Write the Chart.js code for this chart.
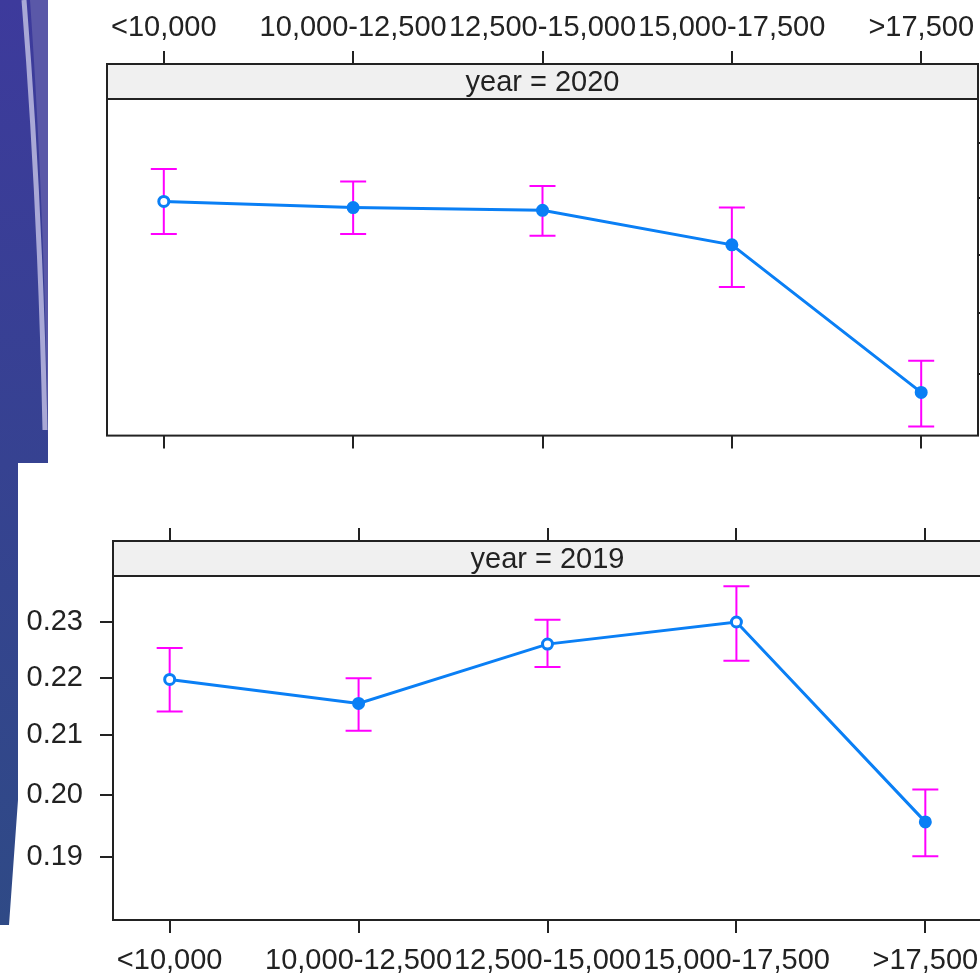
<!DOCTYPE html>
<html>
<head>
<meta charset="utf-8">
<script src="https://cdn.jsdelivr.net/npm/chart.js@4.4.1/dist/chart.umd.min.js"></script>
<style>
    html, body { margin: 0; padding: 0; width: 980px; height: 980px; overflow: hidden; background: #fff; }
    #deco { position: absolute; left: 0; top: 0; }
    .panel { position: absolute; left: 0; }
</style>
</head>
<body>
<svg id="deco" width="60" height="980">
    <defs>
        <linearGradient id="bg" x1="0" y1="0" x2="0" y2="1">
            <stop offset="0" stop-color="#3d3a9c"/>
            <stop offset="1" stop-color="#2f4a86"/>
        </linearGradient>
    </defs>
    <path d="M0,0 L48,0 L48,463 L18,463 L18,800 L9,925 L0,925 Z" fill="url(#bg)"/>
    <path d="M30,0 Q44,200 48,440 L48,0 Z" fill="#5a58a8"/>
    <path d="M24,0 Q40,200 45,430" stroke="#a9a8d6" stroke-width="5" fill="none"/>
</svg>
<canvas id="c2020" class="panel" style="top:0" width="1100" height="470"></canvas>
<canvas id="c2019" class="panel" style="top:470px" width="1100" height="510"></canvas>
<script>
// categorias de ingreso
const categorias = ['<10,000', '10,000-12,500', '12,500-15,000', '15,000-17,500', '>17,500'];

// year = 2020
const ajuste2020 = [0.2194, 0.2183, 0.2178, 0.2117, 0.1870];
const inferior2020 = [0.2136, 0.2136, 0.2133, 0.2044, 0.1816];
const superior2020 = [0.2253, 0.2230, 0.2222, 0.2183, 0.1921];

// year = 2019
const ajuste2019 = [0.2197, 0.2155, 0.2260, 0.2300, 0.1956];
const inferior2019 = [0.2141, 0.2108, 0.2219, 0.2230, 0.1901];
const superior2019 = [0.2253, 0.2199, 0.2304, 0.2366, 0.2009];

const marcasY = [0.19, 0.20, 0.21, 0.22, 0.23];
const rangoY = [0.1802, 0.2451];

const logit = p => Math.log(p / (1 - p));
const invLogit = v => 1 / (1 + Math.exp(-v));

const fuente = { family: '"Liberation Sans", Arial, sans-serif', size: 29 };
const AZUL = '#0a7ff5';
const MAGENTA = '#ff00ff';
const TIRA = 35;

// barras de error
const barrasError = {
    id: 'barrasError',
    beforeDatasetsDraw(chart, args, opts) {
        const { ctx, scales: { x, y } } = chart;
        ctx.save();
        ctx.strokeStyle = MAGENTA;
        ctx.lineWidth = 2;
        opts.inferior.forEach((lo, i) => {
            const px = x.getPixelForValue(i);
            const y1 = y.getPixelForValue(logit(lo));
            const y2 = y.getPixelForValue(logit(opts.superior[i]));
            ctx.beginPath();
            ctx.moveTo(px, y1); ctx.lineTo(px, y2);
            ctx.moveTo(px - 13, y1); ctx.lineTo(px + 13, y1);
            ctx.moveTo(px - 13, y2); ctx.lineTo(px + 13, y2);
            ctx.stroke();
        });
        ctx.restore();
    }
};

// tira con el año y marco del panel
const tiraPanel = {
    id: 'tiraPanel',
    beforeDatasetsDraw(chart, args, opts) {
        const { ctx, chartArea: a } = chart;
        ctx.save();
        ctx.fillStyle = '#f0f0f0';
        ctx.fillRect(a.left, a.top, a.right - a.left, TIRA);
        ctx.fillStyle = '#222';
        ctx.font = `${fuente.size}px ${fuente.family}`;
        ctx.textAlign = 'center';
        ctx.textBaseline = 'middle';
        ctx.fillText(opts.texto, (a.left + a.right) / 2, a.top + TIRA / 2 + 1);
        ctx.restore();
    },
    afterDraw(chart) {
        const { ctx, chartArea: a } = chart;
        ctx.save();
        ctx.strokeStyle = '#222';
        ctx.lineWidth = 2;
        ctx.strokeRect(a.left, a.top, a.right - a.left, a.bottom - a.top);
        ctx.beginPath();
        ctx.moveTo(a.left, a.top + TIRA);
        ctx.lineTo(a.right, a.top + TIRA);
        ctx.stroke();
        ctx.restore();
    }
};

function ejeX(posicion, conEtiquetas, alto, relleno) {
    return {
        type: 'linear',
        position: posicion,
        min: -0.3,
        max: 4.3,
        afterBuildTicks: s => { s.ticks = categorias.map((c, i) => ({ value: i })); },
        afterFit: s => { s.height = alto; },
        border: { display: false },
        grid: { drawOnChartArea: false, drawTicks: true, tickLength: 13, color: '#222', lineWidth: 2 },
        ticks: {
            display: conEtiquetas,
            autoSkip: false,
            maxRotation: 0,
            padding: relleno,
            color: '#222',
            font: fuente,
            callback: v => categorias[v]
        }
    };
}

function ejeY(posicion, ancho) {
    return {
        type: 'linear',
        position: posicion,
        min: logit(rangoY[0]),
        max: logit(rangoY[1]),
        afterBuildTicks: s => { s.ticks = marcasY.map(p => ({ value: logit(p) })); },
        afterFit: s => { s.width = ancho; },
        border: { display: false },
        grid: { drawOnChartArea: false, drawTicks: true, tickLength: 13, color: '#222', lineWidth: 2 },
        ticks: {
            padding: 17,
            color: '#222',
            font: fuente,
            callback: v => invLogit(v).toFixed(2)
        }
    };
}

function serie(valores, huecos) {
    return {
        data: valores.map((p, i) => ({ x: i, y: logit(p) })),
        borderColor: AZUL,
        borderWidth: 3,
        pointRadius: 5,
        pointBorderWidth: 3,
        pointBorderColor: AZUL,
        pointBackgroundColor: valores.map((p, i) => huecos.includes(i) ? '#fff' : AZUL),
        tension: 0
    };
}

const base = {
    type: 'line',
    plugins: [barrasError, tiraPanel]
};

new Chart(document.getElementById('c2020'), {
    ...base,
    data: { datasets: [serie(ajuste2020, [0])] },
    options: {
        responsive: false,
        animation: false,
        layout: { padding: { left: 107, top: 0, right: 0, bottom: 0 } },
        scales: {
            x: ejeX('top', true, 64, 6),
            x2: ejeX('bottom', false, 31, 0),
            y: ejeY('right', 122)
        },
        plugins: {
            legend: { display: false },
            tooltip: { enabled: false },
            barrasError: { inferior: inferior2020, superior: superior2020 },
            tiraPanel: { texto: 'year = 2020' }
        }
    }
});

new Chart(document.getElementById('c2019'), {
    ...base,
    data: { datasets: [serie(ajuste2019, [0, 2, 3])] },
    options: {
        responsive: false,
        animation: false,
        layout: { padding: { left: 0, top: 0, right: 118, bottom: 0 } },
        scales: {
            x: ejeX('bottom', true, 60, 11),
            x2: ejeX('top', false, 71, 0),
            y: ejeY('left', 113)
        },
        plugins: {
            legend: { display: false },
            tooltip: { enabled: false },
            barrasError: { inferior: inferior2019, superior: superior2019 },
            tiraPanel: { texto: 'year = 2019' }
        }
    }
});
</script>
</body>
</html>
